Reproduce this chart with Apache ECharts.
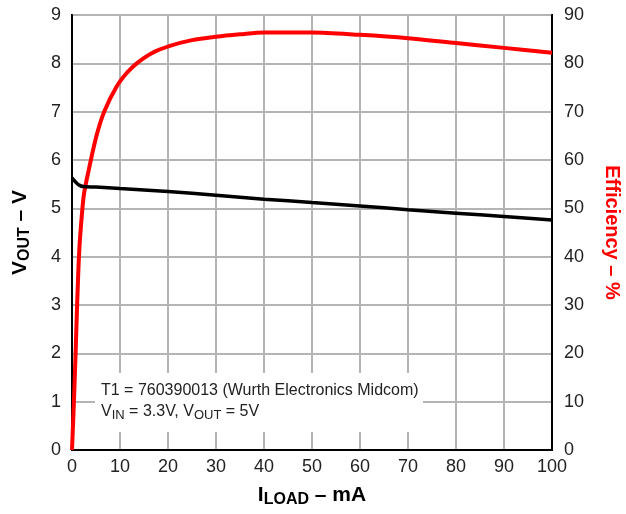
<!DOCTYPE html>
<html>
<head>
<meta charset="utf-8">
<script src="https://cdn.jsdelivr.net/npm/echarts@6/dist/echarts.min.js"></script>
<style>
html,body{margin:0;padding:0;background:#fff;}
#c{width:626px;height:514px;}
</style>
</head>
<body>
<div id="c"></div>
<script>
var xTicks = [0,10,20,30,40,50,60,70,80,90,100];
var voutLoad = [0, 0.5, 1, 1.5, 2.3, 5, 10, 20, 30, 40, 50, 60, 70, 80, 90, 100];
var voutVals = [5.63, 5.57, 5.52, 5.48, 5.45, 5.44, 5.41, 5.35, 5.27, 5.19, 5.12, 5.05, 4.97, 4.90, 4.83, 4.76];
var effLoad = [0, 0.4, 0.75, 1.1, 1.5, 2, 2.5, 3.5, 5.1, 6.7, 9.3, 11.4, 13.5, 16.6, 20.4, 25, 30, 35, 40, 50, 60, 70, 80, 90, 100];
var effVals = [0, 10, 20, 31, 41, 48, 53, 58, 65, 70, 75.2, 78, 80, 82.1, 83.6, 84.8, 85.5, 86.0, 86.4, 86.4, 85.9, 85.2, 84.2, 83.2, 82.2];

function pairs(xs, ys){ return xs.map(function(x,i){ return [x, ys[i]]; }); }

var chart = echarts.init(document.getElementById('c'));
var F = 'Liberation Sans, Arial, sans-serif';
var gridLine = {show:true, lineStyle:{color:'#b4b4b4', width:2}};
chart.setOption({
  animation:false,
  backgroundColor:'#fff',
  grid:{left:72, right:74, top:15, bottom:64, containLabel:false, outerBoundsMode:'none',
        show:true, borderColor:'#000', borderWidth:2, backgroundColor:'transparent'},
  xAxis:{
    type:'value', min:0, max:100, interval:10,
    axisLine:{show:true, lineStyle:{color:'#000', width:2}},
    axisTick:{show:false},
    splitLine:gridLine,
    axisLabel:{color:'#222', fontSize:18, fontFamily:F, margin:8},
    name:'{a|I}{s|LOAD}{a| – mA}',
    nameLocation:'middle', nameGap:33,
    nameTextStyle:{rich:{
      a:{fontSize:21, fontWeight:'bold', fontFamily:F, color:'#000'},
      s:{fontSize:16, fontWeight:'bold', fontFamily:F, color:'#000', padding:[9,0,0,0]}
    }}
  },
  yAxis:[{
    type:'value', min:0, max:9, interval:1, position:'left',
    axisLine:{show:true, lineStyle:{color:'#000', width:2}},
    axisTick:{show:false},
    splitLine:gridLine,
    axisLabel:{color:'#222', fontSize:18, fontFamily:F, margin:11},
    name:'{a|V}{s|OUT}{a| – V}',
    nameLocation:'middle', nameGap:39,
    nameTextStyle:{rich:{
      a:{fontSize:21, fontWeight:'bold', fontFamily:F, color:'#000'},
      s:{fontSize:16, fontWeight:'bold', fontFamily:F, color:'#000', padding:[9,0,0,0]}
    }}
  },{
    type:'value', min:0, max:90, interval:10, position:'right',
    axisLine:{show:true, lineStyle:{color:'#000', width:2}},
    axisTick:{show:false},
    splitLine:{show:false},
    axisLabel:{color:'#222', fontSize:18, fontFamily:F, margin:12},
    name:'Efficiency – %',
    nameLocation:'middle', nameGap:50, nameRotate:-90,
    nameTextStyle:{fontSize:20, fontWeight:'bold', fontFamily:F, color:'#ff0000'}
  }],
  series:[{
    type:'line', yAxisIndex:1, data:pairs(effLoad, effVals), showSymbol:false, smooth:0.3,
    lineStyle:{color:'#ff0000', width:4}, z:3
  },{
    type:'line', yAxisIndex:0, data:pairs(voutLoad, voutVals), showSymbol:false, smooth:0.3,
    lineStyle:{color:'#000', width:3.5}, z:4
  }],
  graphic:[{
    type:'rect', shape:{x:95, y:373, width:328, height:59}, style:{fill:'#fff'}, z:2
  },{
    type:'text', left:101, top:383, z:3,
    style:{text:'T1 = 760390013 (Wurth Electronics Midcom)', font:'16px '+F, fill:'#222'}
  },{
    type:'text', left:101, top:404, z:3,
    style:{
      text:'{a|V}{s|IN}{a| = 3.3V, V}{s|OUT}{a| = 5V}',
      rich:{
        a:{fontSize:16, fontFamily:F, fill:'#222', color:'#222'},
        s:{fontSize:13, fontFamily:F, fill:'#222', color:'#222', padding:[7,0,0,0]}
      }
    }
  }]
});
</script>
</body>
</html>
